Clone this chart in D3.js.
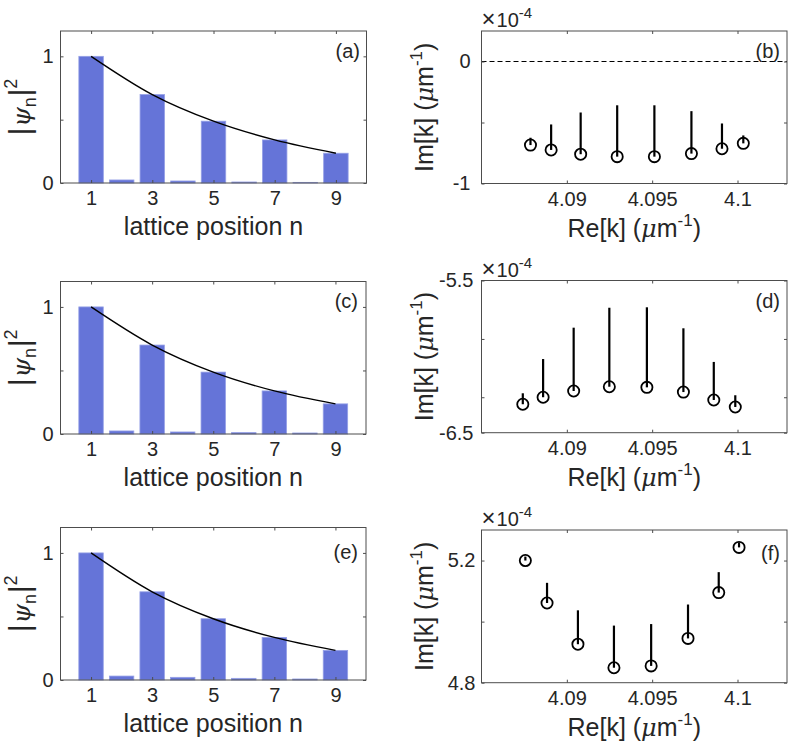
<!DOCTYPE html>
<html><head><meta charset="utf-8">
<script src="https://cdn.jsdelivr.net/npm/d3@7"></script>
<style>
html,body{margin:0;padding:0;background:#fff;}
svg{display:block;font-family:"Liberation Sans",Arial,Helvetica,sans-serif;}
</style>
</head><body>
<svg id="fig" width="789" height="746"></svg>
<script>
// ---------------- data ----------------
const sites = [1, 2, 3, 4, 5, 6, 7, 8, 9];
const probA = [1.0, 0.024, 0.698, 0.016, 0.488, 0.008, 0.340, 0.005, 0.235];
const probC = [1.0, 0.024, 0.700, 0.016, 0.487, 0.011, 0.339, 0.008, 0.237];
const probE = [1.0, 0.031, 0.694, 0.021, 0.482, 0.013, 0.335, 0.008, 0.233];
const envSites = [1, 3, 5, 7, 9];
const envA = [1.0, 0.698, 0.488, 0.340, 0.235];
const envC = [1.0, 0.700, 0.487, 0.339, 0.237];
const envE = [1.0, 0.694, 0.482, 0.335, 0.233];
const leftXTicks = [1, 3, 5, 7, 9];
const leftYTicks = [0, 0.5, 1];
const leftYTickLabels = ["0", "", "1"];

const reB = [4.08787, 4.08908, 4.09081, 4.09295, 4.09513, 4.09730, 4.09909, 4.10034];
const imB = [-0.685, -0.725, -0.760, -0.780, -0.780, -0.755, -0.715, -0.671];
const stemTopB = [-0.625, -0.516, -0.418, -0.359, -0.359, -0.407, -0.508, -0.606];

const reD = [4.08742, 4.08861, 4.09040, 4.09249, 4.09469, 4.09683, 4.09861, 4.09987];
const imD = [-6.313, -6.267, -6.226, -6.198, -6.202, -6.233, -6.285, -6.331];
const stemTopD = [-6.241, -6.016, -5.810, -5.679, -5.676, -5.814, -6.035, -6.254];

const reF = [4.08757, 4.08884, 4.09065, 4.09276, 4.09494, 4.09710, 4.09890, 4.10009];
const imF = [5.200, 5.061, 4.926, 4.849, 4.855, 4.945, 5.095, 5.243];
const stemTopF = [5.213, 5.127, 5.037, 4.987, 4.992, 5.056, 5.162, 5.259];

const rightXTicks = [4.09, 4.095, 4.1];
const rightXTickLabels = ["4.09", "4.095", "4.1"];
const yTicksB = [-1, -0.5, 0];        const yTickLabelsB = ["-1", "", "0"];
const yTicksD = [-6.5, -6.267, -5.884, -5.5]; const yTickLabelsD = ["-6.5", "", "", "-5.5"];
const yTicksF = [4.8, 5.0, 5.2];      const yTickLabelsF = ["4.8", "", "5.2"];

// ---------------- style ----------------
const TXT = "#262626";
const AX = "#4d4d4d";
const BAR = "#6574d8";
const BAR_EDGE = "#95a0e6";
const TICK_FS = 20, LABEL_FS = 25;
const FONT = '"Liberation Sans", Arial, sans-serif';

const svg = d3.select("#fig");

function box(g, x0, x1, y0, y1) {
  g.append("rect").attr("x", x0).attr("y", y0).attr("width", x1 - x0).attr("height", y1 - y0)
    .attr("fill", "none").attr("stroke", AX).attr("stroke-width", 1);
}

function drawAxes(g, x, y, xt, xtl, yt, ytl, ypad) {
  const [x0, x1] = x.range();
  const [y1, y0] = y.range();
  const fmtX = (d, i) => xtl[i];
  const fmtY = (d, i) => ytl[i];
  const gb = g.append("g").attr("transform", `translate(0,${y1})`)
    .call(d3.axisBottom(x).tickValues(xt).tickFormat(fmtX).tickSizeInner(-3).tickSizeOuter(0).tickPadding(8));
  const gt = g.append("g").attr("transform", `translate(0,${y0})`)
    .call(d3.axisTop(x).tickValues(xt).tickFormat("").tickSizeInner(-3).tickSizeOuter(0));
  const gl = g.append("g").attr("transform", `translate(${x0},0)`)
    .call(d3.axisLeft(y).tickValues(yt).tickFormat(fmtY).tickSizeInner(-3).tickSizeOuter(0).tickPadding(ypad));
  const gr = g.append("g").attr("transform", `translate(${x1},0)`)
    .call(d3.axisRight(y).tickValues(yt).tickFormat("").tickSizeInner(-3).tickSizeOuter(0));
  [gb, gt, gl, gr].forEach(a => {
    a.attr("font-size", null).attr("font-family", null);
    a.select(".domain").remove();
    a.selectAll(".tick line").attr("stroke", AX).attr("stroke-width", 1);
    a.selectAll(".tick text").attr("fill", TXT)
      .style("font-size", TICK_FS + "px").style("font-family", FONT);
  });
  box(g, x0, x1, y0, y1);
}

function panelLetter(g, txt, x, y) {
  g.append("text").attr("x", x).attr("y", y).attr("text-anchor", "end")
    .style("font-size", TICK_FS + "px").style("font-family", FONT).attr("fill", TXT).text(txt);
}

function tsp(t, str, size, opts) {
  const s = t.append("tspan").style("font-size", size + "px").text(str);
  if (opts && opts.dy) s.attr("dy", opts.dy);
  if (opts && opts.dx) s.attr("dx", opts.dx);
  if (opts && opts.italic) s.style("font-style", "italic").style("font-family", '"DejaVu Serif", serif');
  return s;
}

// ---------------- left panels ----------------
const leftPanels = [
  {prob: probA, env: envA, letter: "(a)", x0: 60.5, x1: 366.5, y0: 31, y1: 183, lx: 360, ly: 58},
  {prob: probC, env: envC, letter: "(c)", x0: 60.5, x1: 366, y0: 281.5, y1: 434, lx: 358, ly: 308},
  {prob: probE, env: envE, letter: "(e)", x0: 60.5, x1: 366, y0: 527.5, y1: 680, lx: 358, ly: 559}
];

leftPanels.forEach(p => {
  const g = svg.append("g");
  const x = d3.scaleLinear().domain([0, 10]).range([p.x0, p.x1]);
  const y = d3.scaleLinear().domain([0, 1.2]).range([p.y1, p.y0]);
  const bw = x(0.8) - x(0);
  g.selectAll("rect.bar").data(sites).enter().append("rect").attr("class", "bar")
    .attr("x", d => x(d) - bw / 2).attr("width", bw)
    .attr("y", (d, i) => y(p.prob[i])).attr("height", (d, i) => y(0) - y(p.prob[i]))
    .attr("fill", BAR).attr("stroke", BAR_EDGE).attr("stroke-width", 0.8);
  g.append("path").datum(envSites.map((s, i) => [s, p.env[i]]))
    .attr("d", d3.line().x(d => x(d[0])).y(d => y(d[1])).curve(d3.curveMonotoneX))
    .attr("fill", "none").attr("stroke", "#000").attr("stroke-width", 1.4);
  drawAxes(g, x, y, leftXTicks, leftXTicks.map(String), leftYTicks, leftYTickLabels, 7);
  panelLetter(g, p.letter, p.lx, p.ly);
  // x label
  g.append("text").attr("x", (p.x0 + p.x1) / 2).attr("y", p.y1 + 52).attr("text-anchor", "middle")
    .style("font-size", LABEL_FS + "px").style("font-family", FONT).attr("fill", TXT).text("lattice position n");
  // y label |psi_n|^2
  const cy = (p.y0 + p.y1) / 2;
  const t = g.append("text").attr("transform", `translate(30,${cy}) rotate(-90)`)
    .attr("text-anchor", "middle").style("font-family", FONT).attr("fill", TXT);
  tsp(t, "|", 29);
  tsp(t, "ψ", 25, {italic: true, dx: 1});
  tsp(t, "n", 18, {dy: 6});
  tsp(t, "|", 29, {dy: -6, dx: 1});
  tsp(t, "2", 18, {dy: -13});
});

// ---------------- right panels ----------------
const rightPanels = [
  {re: reB, im: imB, top: stemTopB, dom: [-1, 0.25], yt: yTicksB, ytl: yTickLabelsB, letter: "(b)",
   x0: 481.5, x1: 787, y0: 31, y1: 183.5, ly: 58, ypad: 11, dashed: true},
  {re: reD, im: imD, top: stemTopD, dom: [-6.5, -5.5], yt: yTicksD, ytl: yTickLabelsD, letter: "(d)",
   x0: 481.5, x1: 787, y0: 280.5, y1: 432.7, ly: 308, ypad: 8, dashed: false},
  {re: reF, im: imF, top: stemTopF, dom: [4.8, 5.3], yt: yTicksF, ytl: yTickLabelsF, letter: "(f)",
   x0: 481.5, x1: 787, y0: 530, y1: 682.7, ly: 560, ypad: 6, dashed: false}
];

rightPanels.forEach(p => {
  const g = svg.append("g");
  const x = d3.scaleLinear().domain([4.085, 4.1029]).range([p.x0, p.x1]);
  const y = d3.scaleLinear().domain(p.dom).range([p.y1, p.y0]);
  if (p.dashed) {
    g.append("line").attr("x1", p.x0).attr("x2", p.x1).attr("y1", y(0)).attr("y2", y(0))
      .attr("stroke", "#000").attr("stroke-width", 1).attr("stroke-dasharray", "5,3");
  }
  g.selectAll("line.stem").data(p.re).enter().append("line").attr("class", "stem")
    .attr("x1", d => x(d)).attr("x2", d => x(d))
    .attr("y1", (d, i) => y(p.im[i])).attr("y2", (d, i) => y(p.top[i]))
    .attr("stroke", "#000").attr("stroke-width", 2.2);
  g.selectAll("circle.pt").data(p.re).enter().append("circle").attr("class", "pt")
    .attr("cx", d => x(d)).attr("cy", (d, i) => y(p.im[i])).attr("r", 5.6)
    .attr("fill", "none").attr("stroke", "#000").attr("stroke-width", 1.8);
  drawAxes(g, x, y, rightXTicks, rightXTickLabels, p.yt, p.ytl, p.ypad);
  panelLetter(g, p.letter, 780, p.ly);
  // exponent
  const e = g.append("text").attr("x", p.x0).attr("y", p.y0 - 4).style("font-family", FONT).attr("fill", TXT);
  tsp(e, "×", 24);
  tsp(e, "10", 20, {dx: 1});
  tsp(e, "-4", 15, {dy: -9});
  // x label
  const xl = g.append("text").attr("x", (p.x0 + p.x1) / 2).attr("y", p.y1 + 53).attr("text-anchor", "middle")
    .style("font-family", FONT).attr("fill", TXT);
  tsp(xl, "Re[k] (", LABEL_FS);
  tsp(xl, "μ", 24, {italic: true});
  tsp(xl, "m", LABEL_FS);
  tsp(xl, "-1", 17, {dy: -11});
  tsp(xl, ")", LABEL_FS, {dy: 11});
  // y label
  const cy = (p.y0 + p.y1) / 2;
  const yl = g.append("text").attr("transform", `translate(433,${cy}) rotate(-90)`)
    .attr("text-anchor", "middle").style("font-family", FONT).attr("fill", TXT);
  tsp(yl, "Im[k] (", LABEL_FS);
  tsp(yl, "μ", 24, {italic: true});
  tsp(yl, "m", LABEL_FS);
  tsp(yl, "-1", 17, {dy: -11});
  tsp(yl, ")", LABEL_FS, {dy: 11});
});
</script>
</body></html>
